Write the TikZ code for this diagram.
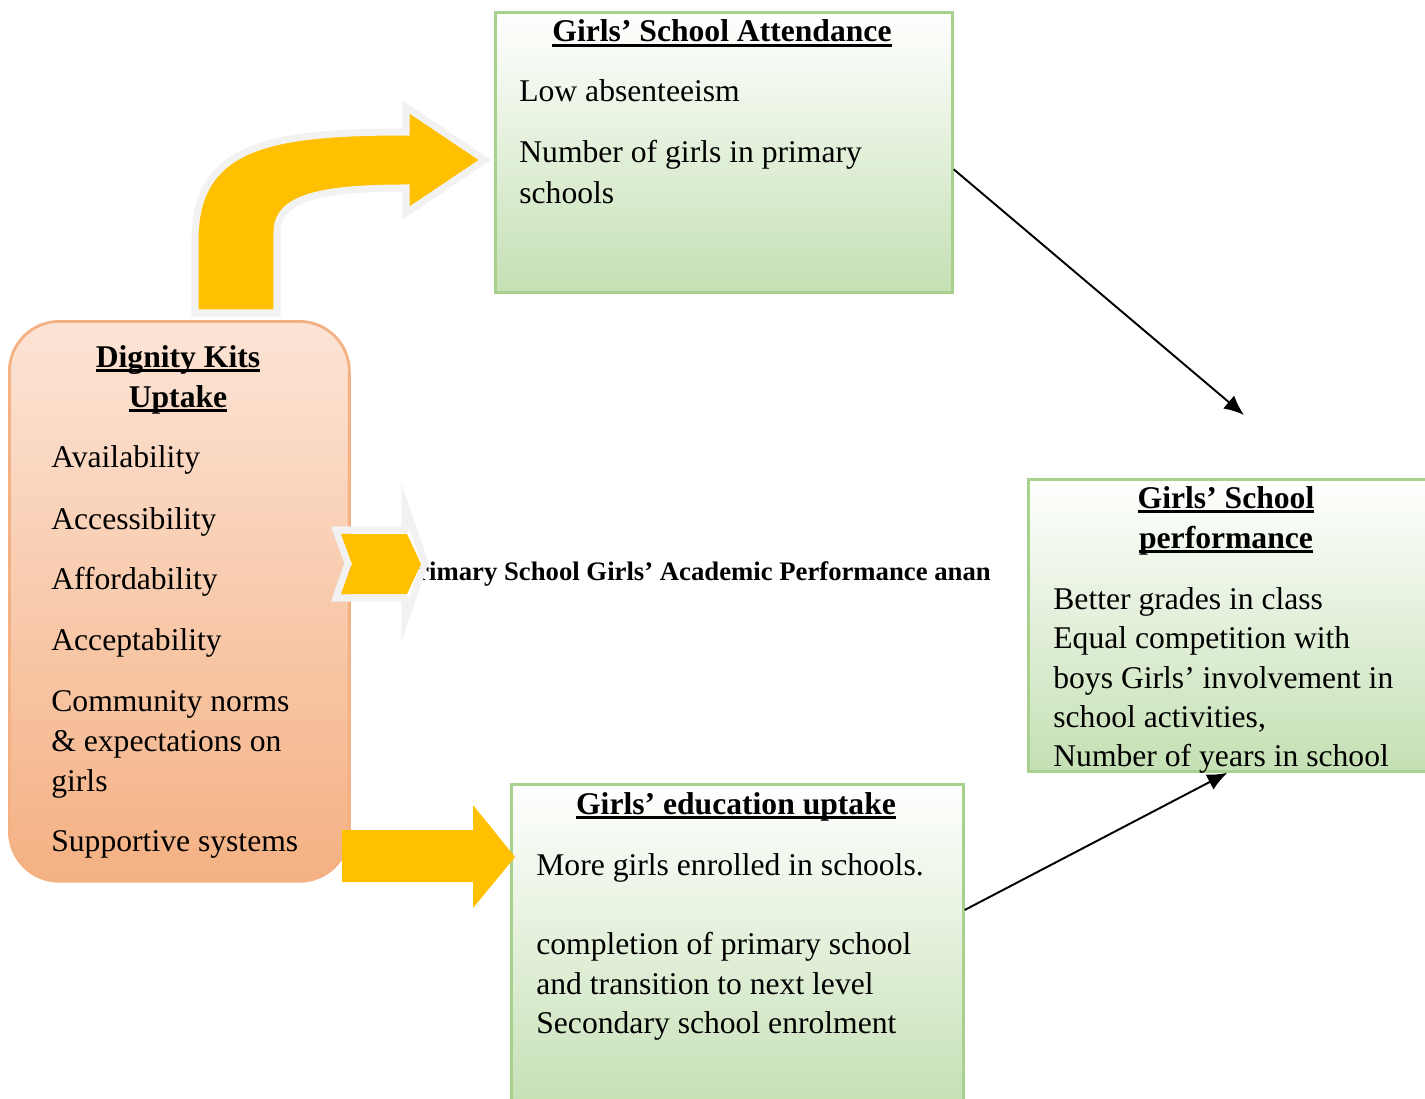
\documentclass[tikz,border=0pt]{standalone}
\usepackage{fontspec}
\setmainfont{Liberation Serif}
\usetikzlibrary{arrows.meta,calc}
\definecolor{boxgreen}{HTML}{C5E0B4}
\definecolor{linegreen}{HTML}{A9D18E}
\definecolor{peachtop}{HTML}{FCE4D6}
\definecolor{peach}{HTML}{F4B183}
\definecolor{kitorange}{HTML}{FFC000}
\definecolor{rimgrey}{HTML}{F2F2F2}
\tikzset{
  greenbox/.style={draw=linegreen, line width=1.6pt, top color=white, bottom color=boxgreen, anchor=north west, inner sep=0pt},
  kitbox/.style={draw=peach, line width=1.6pt, top color=peachtop, bottom color=peach, rounded corners=1cm, anchor=north west, inner sep=0pt},
  body/.style={font=\fontsize{18}{22}\selectfont, anchor=base west, inner sep=0pt},
  heading/.style={font=\fontsize{18}{22}\selectfont\bfseries, anchor=base, inner sep=0pt},
  bigarrow/.style={fill=kitorange, draw=rimgrey, line width=4pt, line join=miter},
  link/.style={-{Latex[length=4mm,width=3.4mm]}, line width=1.1pt}
}
\newcommand{\titleline}[1]{\setbox0\hbox{#1}\rlap{\rule[-2.6pt]{\wd0}{1.2pt}}\box0}
\begin{document}
\begin{tikzpicture}[x=0.02cm,y=-0.02cm]
  \useasboundingbox (0,0) rectangle (1425,1098);
  % boxes
  \node[greenbox, minimum width=9.14cm, minimum height=5.6cm] (attend) at (494,11) {};
  \node[greenbox, minimum width=7.96cm, minimum height=5.84cm] (perf) at (1027,478) {};
  \node[greenbox, minimum width=9.04cm, minimum height=6.54cm] (edu) at (510,783) {};
  \node[kitbox, minimum width=6.8cm, minimum height=11.2cm] (kits) at (8,320) {};
  % attendance
  \node[heading] (t1) at (722,42) {\titleline{Girls’ School Attendance}};
  \node[body] (a1) at (519,102) {Low absenteeism};
  \node[body] (a2) at (519,163) {Number of girls in primary};
  \node[body] (a3) at (519,203) {schools};
  % performance
  \node[heading] (t2) at (1226,508) {\titleline{Girls’ School}};
  \node[heading] (t3) at (1226,548) {\titleline{performance}};
  \node[body] (p1) at (1053,609) {Better grades in class};
  \node[body] (p2) at (1053,648) {Equal competition with};
  \node[body] (p3) at (1053,688) {boys Girls’ involvement in};
  \node[body] (p4) at (1053,727) {school activities,};
  \node[body] (p5) at (1053,766) {Number of years in school};
  % education uptake
  \node[heading] (t4) at (736,814) {\titleline{Girls’ education uptake}};
  \node[body] (e1) at (536,875) {More girls enrolled in schools.};
  \node[body] (e2) at (536,954) {completion of primary school};
  \node[body] (e3) at (536,994) {and transition to next level};
  \node[body] (e4) at (536,1033) {Secondary school enrolment};
  % dignity kits
  \node[heading] (t5) at (178,367) {\titleline{Dignity Kits}};
  \node[heading] (t6) at (178,407) {\titleline{Uptake}};
  \node[body] (k1) at (51,467) {Availability};
  \node[body] (k2) at (51,529) {Accessibility};
  \node[body] (k3) at (51,589) {Affordability};
  \node[body] (k4) at (51,650) {Acceptability};
  \node[body] (k5) at (51,711) {Community norms};
  \node[body] (k6) at (51,751) {\& expectations on};
  \node[body] (k7) at (51,791) {girls};
  \node[body] (k8) at (51,851) {Supportive systems};
  % middle caption
  \node[anchor=base west, inner sep=0pt, font=\fontsize{15.2}{18}\selectfont\bfseries] (mid) at (417,580)
    {rimary School Girls’ Academic Performance anan};
  % yellow arrows
  \draw[bigarrow] (195,313) -- (195,240) .. controls (195,145) and (270,132) .. (406,132)
    -- (406,107) -- (485,160) -- (406,213) -- (406,188)
    .. controls (320,188) and (277,198) .. (277,232) -- (277,313) -- cycle;
  \draw[draw=rimgrey, line width=4pt] (336,530) -- (405,530) -- (405,505) -- (425,563)
    -- (405,620) -- (405,598) -- (336,598) -- (348,563) -- cycle;
  \fill[kitorange] (341,534) -- (407,534) -- (421,564) -- (407,594) -- (341,594) -- (352,564) -- cycle;
  \fill[kitorange] (342,830) -- (473,830) -- (473,805) -- (515,857) -- (473,908) -- (473,882) -- (342,882) -- cycle;
  % links
  \coordinate (drop) at (1244,415);
  \draw[link] ($(attend.north east)!0.56!(attend.south east)$) -- (drop);
  \draw[link] ($(edu.north east)!0.385!(edu.south east)$) -- (perf.south);
\end{tikzpicture}
\end{document}
